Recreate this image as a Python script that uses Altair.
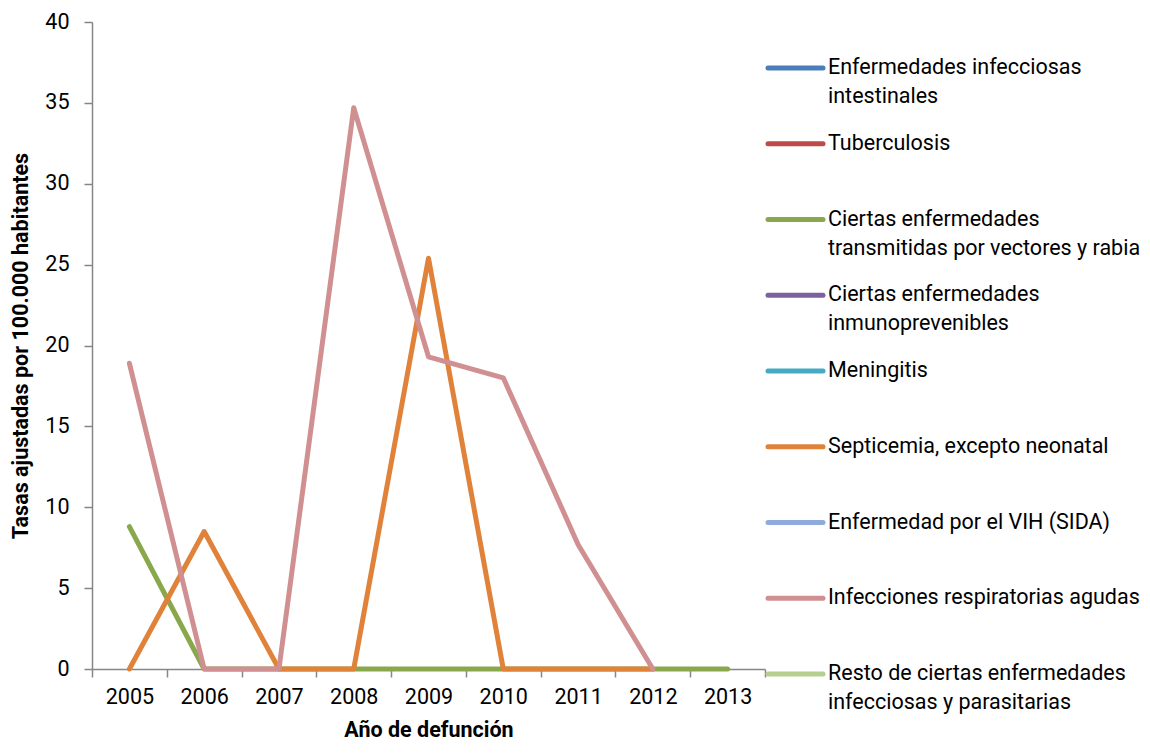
import altair as alt
import pandas as pd

years = ["2005", "2006", "2007", "2008", "2009", "2010", "2011", "2012", "2013"]

series_names = [
    "Enfermedades infecciosas intestinales",
    "Tuberculosis",
    "Ciertas enfermedades transmitidas por vectores y rabia",
    "Ciertas enfermedades inmunoprevenibles",
    "Meningitis",
    "Septicemia, excepto neonatal",
    "Enfermedad por el VIH (SIDA)",
    "Infecciones respiratorias agudas",
    "Resto de ciertas enfermedades infecciosas y parasitarias",
]
legend_line1 = [
    "Enfermedades infecciosas",
    "Tuberculosis",
    "Ciertas enfermedades",
    "Ciertas enfermedades",
    "Meningitis",
    "Septicemia, excepto neonatal",
    "Enfermedad por el VIH (SIDA)",
    "Infecciones respiratorias agudas",
    "Resto de ciertas enfermedades",
]
legend_line2 = [
    "intestinales",
    "",
    "transmitidas por vectores y rabia",
    "inmunoprevenibles",
    "",
    "",
    "",
    "",
    "infecciosas y parasitarias",
]
colors = ["#4A7EBB", "#BE4B48", "#89A84C", "#7D60A0", "#46AAC5",
          "#E0823A", "#8FAADC", "#D09092", "#B5CF8E"]

# Visible series (drawn in this order: green, orange, pink)
vectores = [8.8, 0, 0, 0, 0, 0, 0, 0, 0]
septicemia = [0, 8.5, 0, 0, 25.4, 0, 0, 0, None]
respiratorias = [18.9, 0, 0, 34.7, 19.3, 18.0, 7.7, 0, None]

rows = []
for name, vals in [(series_names[2], vectores),
                   (series_names[5], septicemia),
                   (series_names[7], respiratorias)]:
    for y, v in zip(years, vals):
        if v is not None:
            rows.append({"year": y, "serie": name, "tasa": v})
df = pd.DataFrame(rows)

leg = pd.DataFrame({
    "serie": series_names,
    "l1": legend_line1,
    "l2": legend_line2,
    "idx": list(range(len(series_names))),
})

FONT = "Roboto"
GRAY = "#868686"

color_scale = alt.Scale(domain=series_names, range=colors)

lines = alt.Chart(df).mark_line(strokeWidth=5, strokeCap="round", strokeJoin="round").encode(
    x=alt.X("year:O", sort=years, bandPosition=0.5,
            scale=alt.Scale(type="band", domain=years, paddingInner=0, paddingOuter=0),
            axis=alt.Axis(title="Año de defunción", tickBand="extent", labelAngle=0,
                          labelPadding=9, titlePadding=12)),
    y=alt.Y("tasa:Q", scale=alt.Scale(domain=[0, 40]),
            axis=alt.Axis(title="Tasas ajustadas por 100.000 habitantes",
                          values=[0, 5, 10, 15, 20, 25, 30, 35, 40],
                          labelPadding=15, titlePadding=12)),
    color=alt.Color("serie:N", scale=color_scale, legend=None),
    detail="serie:N",
)

leg_y = alt.Y("idx:Q", scale=alt.Scale(domain=[0, 8], range=[46, 652]), axis=None)

leg_sym = alt.Chart(leg).mark_rule(strokeWidth=5, strokeCap="round").encode(
    x=alt.value(676), x2=alt.value(731), y=leg_y,
    color=alt.Color("serie:N", scale=color_scale, legend=None),
)
leg_t1 = alt.Chart(leg).mark_text(align="left", baseline="middle", font=FONT,
                                  fontSize=21.5, color="black").encode(
    x=alt.value(736), y=leg_y, text="l1:N")
leg_t2 = alt.Chart(leg).mark_text(align="left", baseline="middle", font=FONT,
                                  fontSize=21.5, color="black", dy=29).encode(
    x=alt.value(736), y=leg_y, text="l2:N")

chart = alt.layer(lines, leg_sym, leg_t1, leg_t2).resolve_scale(
    y="independent"
).properties(
    width=673, height=647
).configure(
    padding={"left": 2, "top": 3, "right": 0, "bottom": 0},
    font=FONT,
).configure_view(
    stroke=None
).configure_axis(
    grid=False,
    domainColor=GRAY, domainWidth=1.5,
    tickColor=GRAY, tickWidth=1.5, tickSize=8,
    labelFont=FONT, labelFontSize=21.5, labelColor="black",
    titleFont=FONT, titleFontSize=21.5, titleFontWeight="bold", titleColor="black",
)

chart.save("out.html", embed_options={"renderer": "svg", "actions": False})
